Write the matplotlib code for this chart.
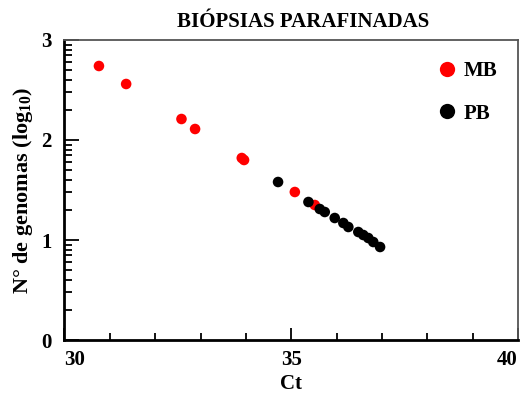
import numpy as np
import matplotlib
matplotlib.use("Agg")
import matplotlib.pyplot as plt
from matplotlib.ticker import FixedLocator
from matplotlib.lines import Line2D

plt.rcParams['font.family'] = ['Liberation Serif', 'DejaVu Serif']
plt.rcParams['font.weight'] = 'bold'
plt.rcParams['mathtext.fontset'] = 'custom'
plt.rcParams['mathtext.rm'] = 'Liberation Serif:bold'
plt.rcParams['mathtext.it'] = 'Liberation Serif:bold'
plt.rcParams['mathtext.bf'] = 'Liberation Serif:bold'
plt.rcParams['mathtext.default'] = 'rm'

# Data (Ct vs log10 genome number)
mb_ct = [30.76, 31.36, 32.58, 32.88, 33.91, 33.96, 35.08, 35.52]
mb_log = [2.74, 2.56, 2.21, 2.11, 1.82, 1.80, 1.48, 1.35]
pb_ct = [34.71, 35.38, 35.63, 35.74, 35.96, 36.15, 36.26, 36.48, 36.59, 36.70, 36.81, 36.96]
pb_log = [1.58, 1.38, 1.31, 1.28, 1.22, 1.17, 1.13, 1.08, 1.05, 1.02, 0.98, 0.93]
x_ticks = [30, 35, 40]
y_ticks = [0, 1, 2, 3]

fig = plt.figure(figsize=(5.2, 3.96), dpi=100)
ax = fig.add_axes([0.124, 0.1414, 0.872, 0.7576])

ax.scatter(mb_ct, mb_log, s=58, color='#ff0000', edgecolors='none', zorder=3, label='MB')
ax.scatter(pb_ct, pb_log, s=58, color='#000000', edgecolors='none', zorder=4, label='PB')

ax.set_xlim(30, 40)
ax.set_ylim(0, 3)
ax.set_xticks(x_ticks)
ax.set_xticklabels([str(t) for t in x_ticks])
ax.xaxis.set_minor_locator(FixedLocator(np.arange(30, 41, 1)))
ax.set_yticks(y_ticks)
ax.set_yticklabels([str(t) for t in y_ticks])
minor_y = [d + np.log10(k) for d in range(3) for k in range(2, 10)]
ax.yaxis.set_minor_locator(FixedLocator(minor_y))

ax.tick_params(axis='both', which='both', direction='in', width=1.3, labelsize=15)
ax.tick_params(axis='y', which='major', length=11, pad=9)
ax.tick_params(axis='y', which='minor', length=6)
ax.tick_params(axis='x', which='major', length=9, pad=7)
ax.tick_params(axis='x', which='minor', length=5)

xl = ax.get_xticklabels()
xl[0].set_horizontalalignment('left')
xl[-1].set_horizontalalignment('right')

for s in ['left', 'bottom']:
    ax.spines[s].set_linewidth(2)
    ax.spines[s].set_color('black')
for s in ['top', 'right']:
    ax.spines[s].set_linewidth(1.3)
    ax.spines[s].set_color('#555555')

ax.set_xlabel('Ct', fontsize=15, fontweight='bold', labelpad=3)
ax.set_ylabel('N° de genomas (log$_{10}$)', fontsize=16, fontweight='bold', labelpad=5)
ax.set_title('BIÓPSIAS PARAFINADAS', fontsize=15, fontweight='bold', pad=9, x=0.527)

handles = [Line2D([], [], marker='o', linestyle='none', markersize=11, color='#ff0000', markeredgewidth=0),
           Line2D([], [], marker='o', linestyle='none', markersize=11, color='#000000', markeredgewidth=0)]
leg = ax.legend(handles, ['MB', 'PB'], loc='upper right', frameon=False, fontsize=15,
                labelspacing=1.1, handletextpad=0.2, borderaxespad=0.6, handlelength=1.2)

fig.savefig('out.png', dpi=100)
